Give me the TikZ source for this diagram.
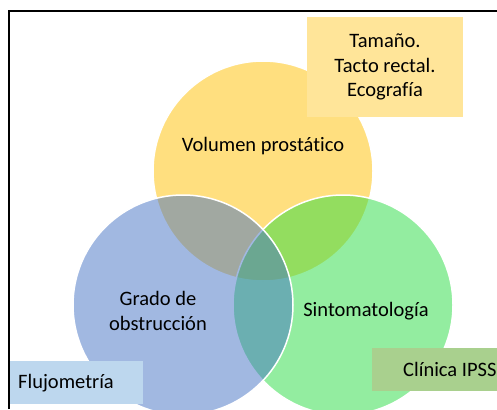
\documentclass[tikz,border=0pt]{standalone}
\usepackage{fontspec}
\setmainfont[Ligatures=NoCommon]{Carlito}

\definecolor{prosyellow}{RGB}{255,192,0}
\definecolor{obsblue}{RGB}{68,114,196}
\definecolor{sintgreen}{RGB}{40,220,65}
\definecolor{boxyellow}{RGB}{255,229,153}
\definecolor{boxblue}{RGB}{189,215,238}
\definecolor{boxgreen}{RGB}{169,208,142}

\tikzset{venn/.style={
    	circle, minimum size=220pt, inner sep=0pt,
    	fill=#1, fill opacity=0.5, draw=white, line width=1.5pt
  	},
  	tag/.style={
    	fill=#1, inner ysep=0pt, minimum height=43pt
  	}
}

\begin{document}
\begin{tikzpicture}[x=1pt, y=-1pt, font=\fontsize{20.5}{24.6}\selectfont]
		\useasboundingbox (0,0) rectangle (497,409);
		% yellow, green, blue
		\node [venn=prosyellow] (vol) at (263,171) {};
		\node [venn=sintgreen] (sint) at (343,305) {};
		\node [venn=obsblue] (obs) at (183,305) {};
		\node (vollab) at (263,146) {Volumen prostático};
		\node [align=center] (obslab) at (158,311) {Grado de\\obstrucción};
		\node (sintlab) at (366,311) {Sintomatología};
		\draw [black, line width=2pt] (9,409) -- (9,11) -- (497,11);
		% boxes
		\node [tag=boxyellow, minimum width=156pt, minimum height=100pt, align=center] (tam) at (385,67) {Tamaño.\\Tacto rectal.\\Ecografía};
		\node [tag=boxblue, anchor=north west, text width=117pt, inner xsep=8pt] (fluj) at (10,361) {Flujometría};
		\node [tag=boxgreen, anchor=north west, inner xsep=31pt] (ipss) at (372,348) {Clínica IPSS};
	\end{tikzpicture}
\end{document}
